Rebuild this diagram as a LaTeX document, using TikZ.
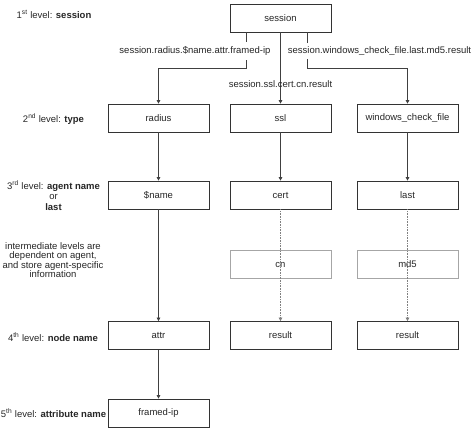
\documentclass[tikz,border=0pt]{standalone}
\usepackage{fontspec}
\setmainfont{Liberation Sans}
\usetikzlibrary{arrows.meta}
\begin{document}
\begin{tikzpicture}[x=1pt,y=-1pt,
  box/.style={draw=black!80, line width=0.7pt, minimum width=101pt, minimum height=28pt, inner sep=0pt, font=\fontsize{9.5}{11}\selectfont, text=black!85},
  ibox/.style={box, draw=black!35},
  lbl/.style={font=\fontsize{9.5}{10.5}\selectfont, align=center, text=black!85, inner sep=1pt},
  elbl/.style={lbl, fill=white, inner xsep=1pt, inner ysep=4pt},
  arr/.style={draw=black!75, line width=0.6pt, -{Triangle[width=3.5pt,length=3.5pt]}},
  darr/.style={arr, draw=black!50, densely dotted},
]
\useasboundingbox (0,0) rectangle (474,428);
% boxes
\node[box] (session) at (280.5,18) {session};
\node[box] (radius) at (158.5,118) {radius};
\node[box] (ssl) at (280.5,118) {ssl};
\node[box] (wcf) at (407.5,118) {windows\_check\_file};
\node[box] (name) at (158.5,195) {\$name};
\node[box] (cert) at (280.5,195) {cert};
\node[box] (last) at (407.5,195) {last};
\node[ibox] (cn) at (280.5,264.5) {cn};
\node[ibox] (md5) at (407.5,264.5) {md5};
\node[box] (attr) at (158.5,335.5) {attr};
\node[box] (result1) at (280.5,335.5) {result};
\node[box] (result2) at (407.5,335.5) {result};
\node[box] (framed) at (158.5,413) {framed-ip};
% connectors
\draw[arr] ([xshift=-34.5pt]session.south) -- ++(0,36) -| (radius.north);
\draw[arr] ([xshift=26.5pt]session.south) -- ++(0,36) -| (wcf.north);
\draw[arr] (session) -- (ssl);
\draw[arr] (radius) -- (name);
\draw[arr] (ssl) -- (cert);
\draw[arr] (wcf) -- (last);
\draw[arr] (name) -- (attr);
\draw[darr] (cert) -- (result1);
\draw[darr] (last) -- (result2);
\draw[arr] (attr) -- (framed);
% edge labels
\node[elbl] (lab1) at (195,51) {session.radius.\$name.attr.framed-ip};
\node[elbl] (lab3) at (379.5,51) {session.windows\_check\_file.last.md5.result};
\node[lbl] (lab2) at (280.5,84) {session.ssl.cert.cn.result};
% level labels
\node[lbl] (lv1) at (54,14) {1\textsuperscript{st} level: \textbf{session}};
\node[lbl] (lv2) at (53.5,119) {2\textsuperscript{nd} level: \textbf{type}};
\node[lbl] (lv3) at (53.5,195.5) {3\textsuperscript{rd} level: \textbf{agent name}\\or\\\textbf{last}};
\node[lbl, font=\fontsize{9.5}{8.3}\selectfont] (lvi) at (53,260.5) {intermediate levels are\\dependent on agent,\\and store agent-specific\\information};
\node[lbl] (lv4) at (53,337) {4\textsuperscript{th} level: \textbf{node name}};
\node[lbl] (lv5) at (53.5,413) {5\textsuperscript{th} level: \textbf{attribute name}};
\end{tikzpicture}
\end{document}
